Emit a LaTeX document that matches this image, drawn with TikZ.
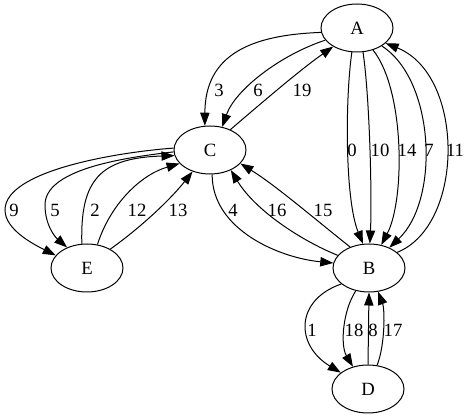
\documentclass[tikz,border=0pt]{standalone}
\usepackage{fontspec}
\setmainfont{Liberation Serif}
\usetikzlibrary{shapes.geometric,arrows.meta}
\begin{document}
\begin{tikzpicture}[x=1pt,y=-1pt,
  vertex/.style={draw,ellipse,line width=1pt,minimum width=72pt,minimum height=48pt,inner sep=0pt,font=\fontsize{18.7}{20}\selectfont},
  elabel/.style={inner sep=0pt,font=\fontsize{18.7}{20}\selectfont},
  edge/.style={line width=1pt,-{Triangle[length=13pt,width=9.3pt]}}]
\useasboundingbox (0,0) rectangle (469,419);
\node[vertex] (A) at (357,28) {A};
\node[vertex] (C) at (210,150) {C};
\node[vertex] (B) at (369,268) {B};
\node[vertex] (D) at (368,389) {D};
\node[vertex] (E) at (87,268) {E};
% A -> C
\draw[edge] (A.187) .. controls (250,35) and (205,55) .. (C.102);
\draw[edge] (A.201) .. controls (280,55) and (235,90) .. (C.62);
\draw[edge] (C.45) .. controls (265,100) and (300,70) .. (A.218);
% A -> B
\draw[edge] (A.258) .. controls (345,100) and (345,200) .. (B.104);
\draw[edge] (A.284) .. controls (370,100) and (372,200) .. (B.88);
\draw[edge] (A.306) .. controls (405,90) and (405,200) .. (B.62);
\draw[edge] (A.324) .. controls (435,80) and (440,200) .. (B.45);
\draw[edge] (B.29) .. controls (465,225) and (465,75) .. (A.332);
% C <-> B
\draw[edge] (C.275) .. controls (212,230) and (280,258) .. (B.172);
\draw[edge] (B.158) .. controls (300,240) and (255,210) .. (C.316);
\draw[edge] (B.132) .. controls (310,215) and (275,185) .. (C.336);
% C <-> E
\coordinate (p9) at (5,210);
\coordinate (p5) at (45,205);
\draw[edge] (C.177) .. controls (120,152) and (5,170) .. (p9) .. controls (5,230) and (35,245) .. (E.158);
\draw[edge] (C.183) .. controls (120,158) and (45,170) .. (p5) .. controls (45,225) and (55,237) .. (E.134);
\draw[edge] (E.102) .. controls (80,180) and (100,158) .. (C.189);
\draw[edge] (E.66) .. controls (110,205) and (140,175) .. (C.204);
\draw[edge] (E.39) .. controls (140,228) and (170,200) .. (C.231);
% B <-> D
\draw[edge] (B.210) .. controls (295,300) and (295,345) .. (D.149);
\draw[edge] (B.240) .. controls (343,310) and (340,345) .. (D.124);
\draw[edge] (D.90) -- (B.270);
\draw[edge] (D.69) .. controls (385,345) and (385,310) .. (B.291);
% labels
\node[elabel] (l3) at (219,90) {3};
\node[elabel] (l6) at (258,90) {6};
\node[elabel] (l19) at (302,90) {19};
\node[elabel] (l0) at (352,150) {0};
\node[elabel] (l10) at (380,150) {10};
\node[elabel] (l14) at (407,150) {14};
\node[elabel] (l7) at (429,150) {7};
\node[elabel] (l11) at (455,150) {11};
\node[elabel] (l4) at (233,210) {4};
\node[elabel] (l16) at (277,210) {16};
\node[elabel] (l15) at (323,210) {15};
\node[elabel] (l9) at (14,210) {9};
\node[elabel] (l5) at (55,210) {5};
\node[elabel] (l2) at (95,210) {2};
\node[elabel] (l12) at (137,210) {12};
\node[elabel] (l13) at (178,210) {13};
\node[elabel] (l1) at (312,330) {1};
\node[elabel] (l18) at (354,330) {18};
\node[elabel] (l8) at (373,330) {8};
\node[elabel] (l17) at (393,330) {17};
\end{tikzpicture}
\end{document}
